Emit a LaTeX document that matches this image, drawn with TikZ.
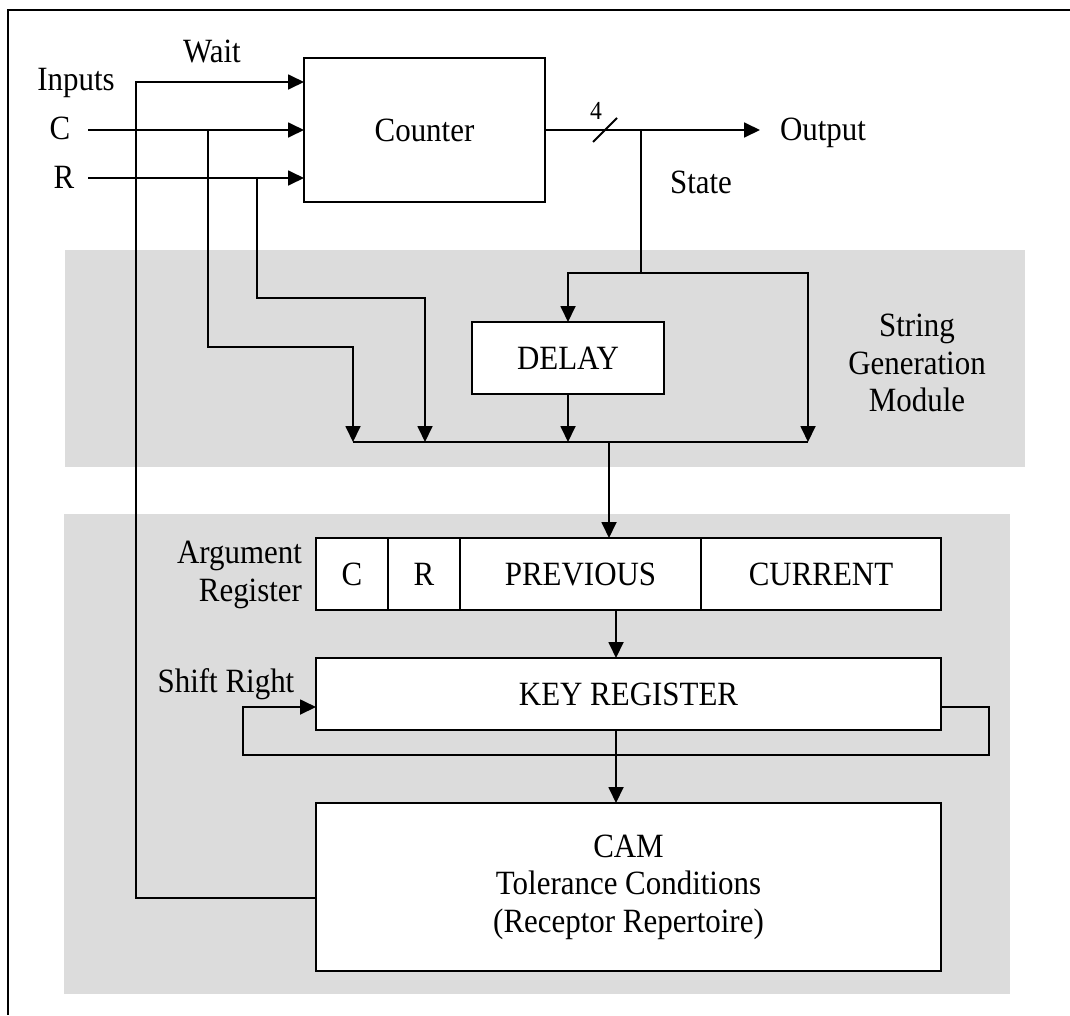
\documentclass[tikz,border=0pt]{standalone}
\usepackage{fontspec}
\setmainfont{Liberation Serif}[FakeStretch=0.91]
\usetikzlibrary{arrows.meta}
\definecolor{bandgray}{HTML}{DCDCDC}
\begin{document}
\begin{tikzpicture}[x=1pt,y=-1pt,
  line width=1.8pt,
  every node/.style={font=\fontsize{34}{37.5}\selectfont, inner sep=0pt, outer sep=0pt},
  blk/.style 2 args={draw, fill=white, minimum width=#1, minimum height=#2},
  arr/.style={-{Triangle[length=16pt,width=15pt]}},
  lbl/.style={anchor=base}
]
\useasboundingbox (0,0) rectangle (1070,1015);

% shaded module areas
\fill[bandgray] (65,250) rectangle (1025,467);
\fill[bandgray] (64,514) rectangle (1010,994);

% frame
\draw[line width=2pt] (1070,10) -- (8,10) -- (8,1015);

% blocks
\node[blk={241}{144}] (counter) at (424.5,130) {Counter};
\node[blk={192}{72}]  (delay)   at (568,358)   {DELAY};
\node[blk={72}{72}]   (cellC)   at (352,574)   {C};
\node[blk={72}{72}]   (cellR)   at (424,574)   {R};
\node[blk={241}{72}]  (cellP)   at (580.5,574) {PREVIOUS};
\node[blk={240}{72}]  (cellN)   at (821,574)   {CURRENT};
\node[blk={625}{72}]  (keyreg)  at (628.5,694) {KEY REGISTER};
\node[blk={625}{168}, align=center] (cam) at (628.5,887)
  {CAM\\Tolerance Conditions\\(Receptor Repertoire)};

% labels
\node[lbl] (tinputs) at (76,90)  {Inputs};
\node[lbl] (twait)   at (212,62) {Wait};
\node[lbl] (tc)      at (60,139) {C};
\node[lbl] (tr)      at (64,188) {R};
\node[lbl, font=\fontsize{26}{30}\selectfont] (tfour) at (596,119) {4};
\node[anchor=base west] (toutput) at (780,140) {Output};
\node[lbl] (tstate)  at (701,193) {State};
\node[align=center] (tsgm) at (917,363) {String\\Generation\\Module};
\node[align=right, anchor=east] (targ) at (302,575) {Argument\\Register};
\node[lbl] (tshift)  at (226,692) {Shift Right};

% points on the wiring
\coordinate (cin)    at (88,130);
\coordinate (rin)    at (88,178);
\coordinate (cbr)    at (208,130);
\coordinate (rbr)    at (257,178);
\coordinate (busL)   at (353,442);
\coordinate (busR2)  at (425,442);
\coordinate (busR)   at (808,442);
\coordinate (busout) at (609,442);
\coordinate (stbr)   at (641,130);
\coordinate (outend) at (760,130);
\coordinate (waitin) at ([yshift=48pt]counter.west);

% counter inputs
\draw[arr] ([yshift=-11pt]cam.west) -| ([xshift=-168pt]waitin) -- (waitin);
\draw[arr] (cin) -- (counter.west);
\draw[arr] (rin) -- ([yshift=-48pt]counter.west);

% C and R taps to the bus
\draw[arr] (cbr) -- ++(0,217) -| (busL);
\draw[arr] (rbr) -- ++(0,120) -| (busR2);

% counter output and state
\draw[arr] (counter.east) -- (outend);
\draw (593,142) -- (617,118);
\draw (stbr) -- ++(0,143) coordinate (stj);
\draw[arr] (stj) -| (delay.north);
\draw[arr] (stj) -| (busR);
\draw[arr] (delay.south) -- (delay.south |- busL);
\draw (busL) -- (busR);

% registers and CAM
\draw[arr] (busout) -- (busout |- cellP.north);
\draw[arr] ([xshift=-12.5pt]keyreg.north |- cellP.south) -- ([xshift=-12.5pt]keyreg.north);
\draw[arr] ([xshift=-12.5pt]keyreg.south) -- ([xshift=-12.5pt]cam.north);

% shift-right loop
\draw[arr] ([yshift=-13pt]keyreg.east) -- ++(48,0) -- ++(0,48) -- ++(-746,0) -- ++(0,-48)
  -- ([yshift=-13pt]keyreg.west);
\end{tikzpicture}
\end{document}
